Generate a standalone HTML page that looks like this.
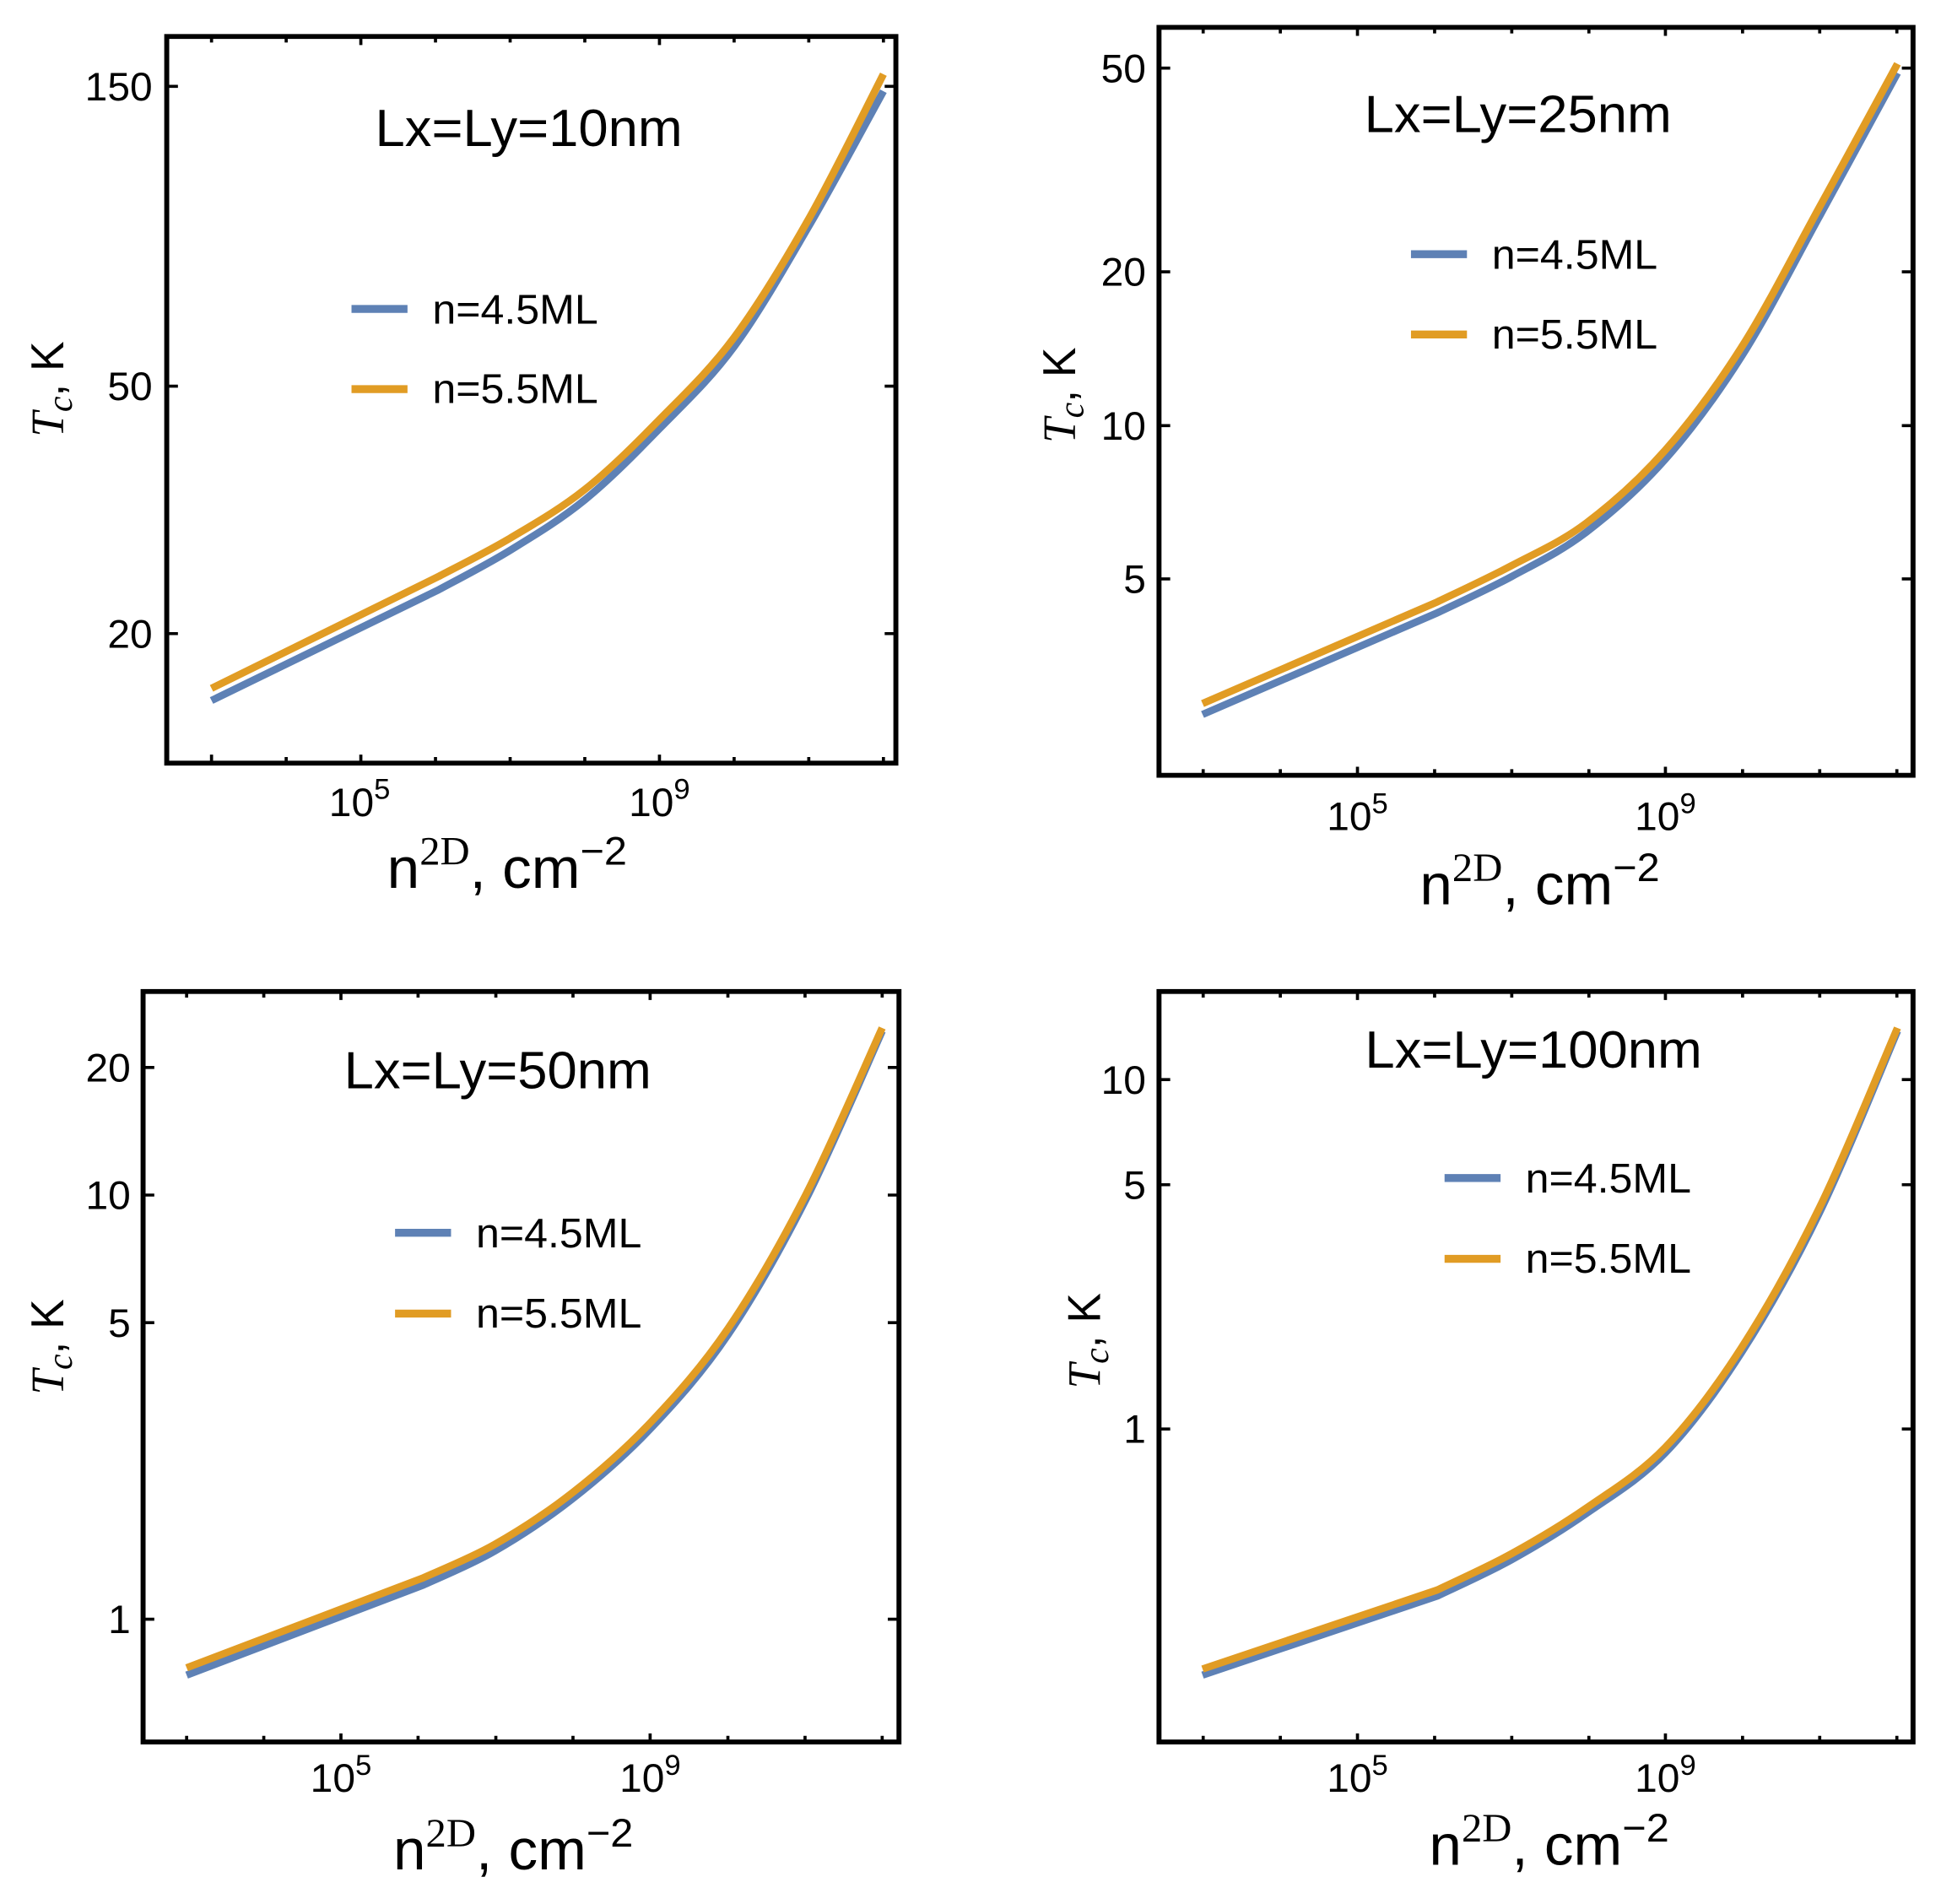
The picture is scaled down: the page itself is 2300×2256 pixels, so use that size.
<!DOCTYPE html>
<html><head><meta charset="utf-8"><style>
html,body{margin:0;padding:0;background:#fff}
svg{display:block}
text{font-family:"Liberation Sans",sans-serif;fill:#000}
.t{font-size:65px}
.ti{font-size:86px}
.lg{font-size:68px}
.xl{font-size:94px}
.yl{font-size:74px}
.fr{fill:none;stroke:#000;stroke-width:8}
.tk{stroke:#000;stroke-width:5}
.b{fill:none;stroke:#5E81B5;stroke-width:12;stroke-linejoin:round;stroke-linecap:butt}
.o{fill:none;stroke:#E19C24;stroke-width:12;stroke-linejoin:round;stroke-linecap:butt}
.sr{font-family:"Liberation Serif",serif}
</style></head><body>
<svg width="2300" height="2256" viewBox="0 0 2300 2256" xmlns="http://www.w3.org/2000/svg">

<!-- Panel 1 -->
<g transform="translate(0,0) scale(0.7372,0.7205)">
<rect class="fr" x="268" y="60" width="1172" height="1195"/>
<path class="tk" d="M268,142h18M1440,142h-18M268,635h18M1440,635h-18M268,1042h18M1440,1042h-18
M340,1255v-14M460,1255v-10M580,1255v-14M700,1255v-10M820,1255v-10M940,1255v-10M1060,1255v-14M1180,1255v-10M1300,1255v-10M1420,1255v-10
M340,60v10M460,60v10M580,60v14M700,60v10M820,60v10M940,60v10M1060,60v14M1180,60v10M1300,60v10M1420,60v10"/>
<text class="t" x="245" y="165" text-anchor="end">150</text>
<text class="t" x="245" y="658" text-anchor="end">50</text>
<text class="t" x="245" y="1065" text-anchor="end">20</text>
<text class="t" x="578" y="1342" text-anchor="middle">10<tspan dy="-28" font-size="47">5</tspan></text>
<text class="t" x="1060" y="1342" text-anchor="middle">10<tspan dy="-28" font-size="47">9</tspan></text>
<text class="ti" x="850" y="240" text-anchor="middle">Lx=Ly=10nm</text>
<line x1="565" y1="508" x2="655" y2="508" stroke="#5E81B5" stroke-width="13"/>
<line x1="565" y1="640" x2="655" y2="640" stroke="#E19C24" stroke-width="13"/>
<text class="lg" x="695" y="532">n=4.5ML</text>
<text class="lg" x="695" y="663">n=5.5ML</text>
<polyline class="b sm" points="340,1152 705,970 820,905 940,822 1060,705 1180,570 1300,372 1420,150"/>
<polyline class="o sm" points="340,1132 705,948 820,885 940,805 1060,690 1180,555 1300,360 1420,122"/>
<text class="yl" transform="translate(102,640) rotate(-90)" text-anchor="middle"><tspan class="sr" font-style="italic">T</tspan><tspan class="sr" font-style="italic" font-size="58" dy="13">c</tspan><tspan dy="-13">, K</tspan></text>
<text class="xl" x="815" y="1460" text-anchor="middle">n<tspan class="sr" font-size="66" dy="-38">2D</tspan><tspan dy="38">, cm</tspan><tspan font-size="66" dy="-38">−2</tspan></text>
</g>

<!-- Panel 2 -->
<g transform="translate(1150,0) scale(0.7372,0.7205)">
<rect class="fr" x="303" y="45" width="1212" height="1230"/>
<path class="tk" d="M303,112h18M1515,112h-18M303,447h18M1515,447h-18M303,700h18M1515,700h-18M303,952h18M1515,952h-18
M374,1275v-10M498,1275v-10M622,1275v-14M746,1275v-10M870,1275v-10M994,1275v-10M1117,1275v-14M1241,1275v-10M1365,1275v-10M1489,1275v-10
M374,45v10M498,45v10M622,45v14M746,45v10M870,45v10M994,45v10M1117,45v14M1241,45v10M1365,45v10M1489,45v10"/>
<text class="t" x="282" y="135" text-anchor="end">50</text>
<text class="t" x="282" y="470" text-anchor="end">20</text>
<text class="t" x="282" y="723" text-anchor="end">10</text>
<text class="t" x="282" y="975" text-anchor="end">5</text>
<text class="t" x="622" y="1365" text-anchor="middle">10<tspan dy="-28" font-size="47">5</tspan></text>
<text class="t" x="1117" y="1365" text-anchor="middle">10<tspan dy="-28" font-size="47">9</tspan></text>
<text class="ti" x="880" y="217" text-anchor="middle">Lx=Ly=25nm</text>
<line x1="708" y1="418" x2="798" y2="418" stroke="#5E81B5" stroke-width="13"/>
<line x1="708" y1="550" x2="798" y2="550" stroke="#E19C24" stroke-width="13"/>
<text class="lg" x="838" y="442">n=4.5ML</text>
<text class="lg" x="838" y="573">n=5.5ML</text>
<polyline class="b sm" points="373,1175 750,1008 870,948 990,875 1117,755 1240,585 1365,355 1490,120"/>
<polyline class="o sm" points="373,1157 750,990 870,930 990,860 1117,740 1240,570 1365,340 1490,105"/>
<text class="yl" transform="translate(168,650) rotate(-90)" text-anchor="middle"><tspan class="sr" font-style="italic">T</tspan><tspan class="sr" font-style="italic" font-size="58" dy="13">c</tspan><tspan dy="-13">, K</tspan></text>
<text class="xl" x="915" y="1487" text-anchor="middle">n<tspan class="sr" font-size="66" dy="-38">2D</tspan><tspan dy="38">, cm</tspan><tspan font-size="66" dy="-38">−2</tspan></text>
</g>

<!-- Panel 3 -->
<g transform="translate(0,1128) scale(0.7372,0.7200)">
<rect class="fr" x="230" y="65" width="1215" height="1235"/>
<path class="tk" d="M230,190h18M1445,190h-18M230,400h18M1445,400h-18M230,610h18M1445,610h-18M230,1098h18M1445,1098h-18
M300,1300v-10M424,1300v-10M548,1300v-14M672,1300v-10M797,1300v-10M921,1300v-10M1045,1300v-14M1170,1300v-10M1294,1300v-10M1418,1300v-10
M300,65v10M424,65v10M548,65v14M672,65v10M797,65v10M921,65v10M1045,65v14M1170,65v10M1294,65v10M1418,65v10"/>
<text class="t" x="210" y="213" text-anchor="end">20</text>
<text class="t" x="210" y="423" text-anchor="end">10</text>
<text class="t" x="210" y="633" text-anchor="end">5</text>
<text class="t" x="210" y="1121" text-anchor="end">1</text>
<text class="t" x="548" y="1382" text-anchor="middle">10<tspan dy="-28" font-size="47">5</tspan></text>
<text class="t" x="1045" y="1382" text-anchor="middle">10<tspan dy="-28" font-size="47">9</tspan></text>
<text class="ti" x="800" y="224" text-anchor="middle">Lx=Ly=50nm</text>
<line x1="635" y1="462" x2="725" y2="462" stroke="#5E81B5" stroke-width="13"/>
<line x1="635" y1="595" x2="725" y2="595" stroke="#E19C24" stroke-width="13"/>
<text class="lg" x="765" y="486">n=4.5ML</text>
<text class="lg" x="765" y="618">n=5.5ML</text>
<polyline class="b sm" points="300,1190 680,1042 795,986 920,900 1045,785 1170,630 1295,408 1418,130"/>
<polyline class="o sm" points="300,1178 680,1030 795,975 920,890 1045,775 1170,620 1295,400 1418,125"/>
<text class="yl" transform="translate(102,650) rotate(-90)" text-anchor="middle"><tspan class="sr" font-style="italic">T</tspan><tspan class="sr" font-style="italic" font-size="58" dy="13">c</tspan><tspan dy="-13">, K</tspan></text>
<text class="xl" x="825" y="1510" text-anchor="middle">n<tspan class="sr" font-size="66" dy="-38">2D</tspan><tspan dy="38">, cm</tspan><tspan font-size="66" dy="-38">−2</tspan></text>
</g>

<!-- Panel 4 -->
<g transform="translate(1150,1128) scale(0.7372,0.7200)">
<rect class="fr" x="303" y="65" width="1212" height="1235"/>
<path class="tk" d="M303,210h18M1515,210h-18M303,383h18M1515,383h-18M303,785h18M1515,785h-18
M374,1300v-10M498,1300v-10M622,1300v-14M746,1300v-10M870,1300v-10M994,1300v-10M1117,1300v-14M1241,1300v-10M1365,1300v-10M1489,1300v-10
M374,65v10M498,65v10M622,65v14M746,65v10M870,65v10M994,65v10M1117,65v14M1241,65v10M1365,65v10M1489,65v10"/>
<text class="t" x="282" y="233" text-anchor="end">10</text>
<text class="t" x="282" y="406" text-anchor="end">5</text>
<text class="t" x="282" y="808" text-anchor="end">1</text>
<text class="t" x="622" y="1382" text-anchor="middle">10<tspan dy="-28" font-size="47">5</tspan></text>
<text class="t" x="1117" y="1382" text-anchor="middle">10<tspan dy="-28" font-size="47">9</tspan></text>
<text class="ti" x="905" y="190" text-anchor="middle">Lx=Ly=100nm</text>
<line x1="762" y1="372" x2="852" y2="372" stroke="#5E81B5" stroke-width="13"/>
<line x1="762" y1="505" x2="852" y2="505" stroke="#E19C24" stroke-width="13"/>
<text class="lg" x="892" y="396">n=4.5ML</text>
<text class="lg" x="892" y="528">n=5.5ML</text>
<polyline class="b sm" points="373,1190 750,1060 870,1000 990,924 1117,824 1240,658 1365,428 1490,130"/>
<polyline class="o sm" points="373,1180 750,1050 870,990 990,915 1117,815 1240,650 1365,420 1490,125"/>
<text class="yl" transform="translate(208,640) rotate(-90)" text-anchor="middle"><tspan class="sr" font-style="italic">T</tspan><tspan class="sr" font-style="italic" font-size="58" dy="13">c</tspan><tspan dy="-13">, K</tspan></text>
<text class="xl" x="930" y="1502" text-anchor="middle">n<tspan class="sr" font-size="66" dy="-38">2D</tspan><tspan dy="38">, cm</tspan><tspan font-size="66" dy="-38">−2</tspan></text>
</g>
</svg>
<script>
document.querySelectorAll('polyline.sm').forEach(function(pl){
  var p=pl.getAttribute('points').trim().split(/\s+/).map(function(s){return s.split(',').map(Number);});
  var d='M'+p[0][0]+','+p[0][1]+' L'+p[1][0]+','+p[1][1];
  for(var i=1;i<p.length-1;i++){
    var a=p[i-1<1?1:i-1],b=p[i],c=p[i+1],e=p[i+2<p.length?i+2:p.length-1];
    var c1x=b[0]+(c[0]-a[0])/6,c1y=b[1]+(c[1]-a[1])/6;
    var c2x=c[0]-(e[0]-b[0])/6,c2y=c[1]-(e[1]-b[1])/6;
    d+=' C'+c1x+','+c1y+' '+c2x+','+c2y+' '+c[0]+','+c[1];
  }
  var np=document.createElementNS('http://www.w3.org/2000/svg','path');
  np.setAttribute('d',d);np.setAttribute('class',pl.getAttribute('class'));
  pl.parentNode.replaceChild(np,pl);
});
</script>
</body></html>
